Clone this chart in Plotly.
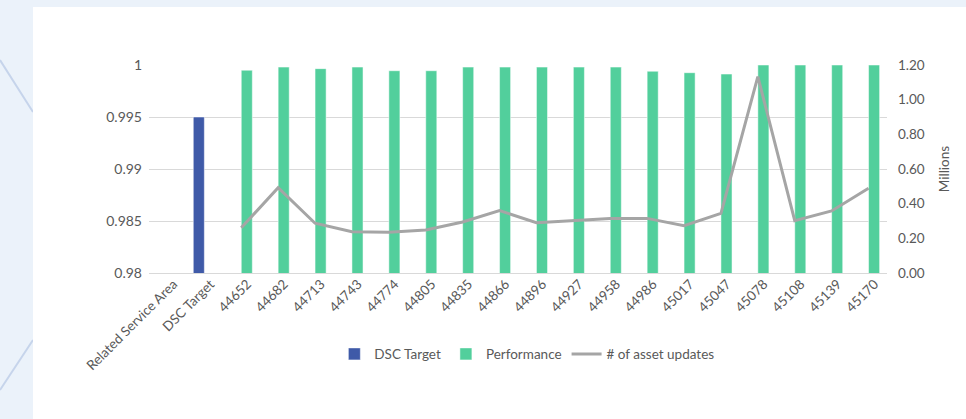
import plotly.graph_objects as go

categories = ["Related Service Area", "DSC Target", "44652", "44682", "44713", "44743",
              "44774", "44805", "44835", "44866", "44896", "44927", "44958", "44986",
              "45017", "45047", "45078", "45108", "45139", "45170"]
dsc_target = [None, 0.995] + [None] * 18
performance = [None, None, 0.9995, 0.9998, 0.99965, 0.9998, 0.99945, 0.99945, 0.9998,
               0.9998, 0.9998, 0.9998, 0.9998, 0.9994, 0.99926, 0.99913, 1.0, 1.0, 1.0, 1.0]
asset_updates_m = [None, None, 0.261, 0.492, 0.287, 0.238, 0.235, 0.248, 0.294, 0.360,
                   0.290, 0.302, 0.315, 0.315, 0.273, 0.344, 1.133, 0.302, 0.358, 0.489]
left_ticks = [0.98, 0.985, 0.99, 0.995, 1.0]
left_ticktext = ["0.98", "0.985", "0.99", "0.995", "1"]
right_ticks = [0, 0.2, 0.4, 0.6, 0.8, 1.0, 1.2]

TXT = "#595959"
FONT = "Lato"
BG = "#EBF2FA"

fig = go.Figure()
fig.add_trace(go.Bar(x=categories, y=dsc_target, name="DSC Target",
                     marker=dict(color="#3F5AA8", line=dict(color="rgba(255,255,255,0.5)", width=1))))
fig.add_trace(go.Bar(x=categories, y=performance, name="Performance",
                     marker=dict(color="#52CF9C", line=dict(color="rgba(255,255,255,0.5)", width=1))))
fig.add_trace(go.Scatter(x=categories, y=asset_updates_m, name="# of asset updates",
                         mode="lines", line=dict(color="#A5A5A5", width=3), yaxis="y2",
                         connectgaps=False))

shapes = [
    dict(type="line", xref="paper", yref="paper", x0=-0.2019, y0=1.024, x1=-0.1572, y1=0.774,
         line=dict(color="#C6D4EB", width=2), layer="below"),
    dict(type="line", xref="paper", yref="paper", x0=-0.1572, y0=-0.322, x1=-0.2019, y1=-0.5625,
         line=dict(color="#C6D4EB", width=2), layer="below"),
    dict(type="rect", xref="paper", yref="paper", x0=-0.1572, y0=-0.72, x1=1.2, y1=1.279,
         fillcolor="white", line=dict(width=0), layer="below"),
]

fig.update_layout(
    template="none",
    width=966, height=419,
    margin=dict(l=149, r=79, t=65, b=146, autoexpand=False),
    paper_bgcolor=BG,
    plot_bgcolor="white",
    font=dict(family=FONT, size=13, color=TXT),
    barmode="group", bargap=0.4, bargroupgap=0,
    shapes=shapes,
    showlegend=True,
    legend=dict(orientation="h", x=0.512, xanchor="center", y=-0.39, yanchor="middle",
                font=dict(family=FONT, size=13.5, color=TXT), bgcolor="rgba(0,0,0,0)",
                traceorder="normal", itemwidth=30),
    xaxis=dict(type="category", tickangle=-45, showgrid=False, showline=True,
               linecolor="#D9D9D9", linewidth=1, ticks="", automargin=False,
               ticklabelshift=6, ticklabelstandoff=-3,
               tickfont=dict(family=FONT, size=13.5, color=TXT), zeroline=False),
    yaxis=dict(range=[0.98, 1.0], tickvals=left_ticks, ticktext=left_ticktext,
               showgrid=True, gridcolor="#D9D9D9", gridwidth=1, zeroline=False,
               showline=False, ticks="", automargin=False, ticklabelstandoff=6,
               tickfont=dict(family=FONT, size=14, color=TXT)),
    yaxis2=dict(range=[0, 1.2], tickvals=right_ticks, tickformat=".2f", overlaying="y",
                side="right", showgrid=False, zeroline=False, showline=False, ticks="",
                automargin=False, ticklabelstandoff=10,
                title=dict(text="Millions", font=dict(family=FONT, size=13.5, color=TXT), standoff=15),
                tickfont=dict(family=FONT, size=13.5, color=TXT)),
)

fig.write_html(
    "out.html",
    config={"displayModeBar": False},
    post_script=("document.body.style.margin='0';document.body.style.padding='0';"
                 "document.body.style.overflow='hidden';"
                 f"document.body.style.background='{BG}';"),
)
